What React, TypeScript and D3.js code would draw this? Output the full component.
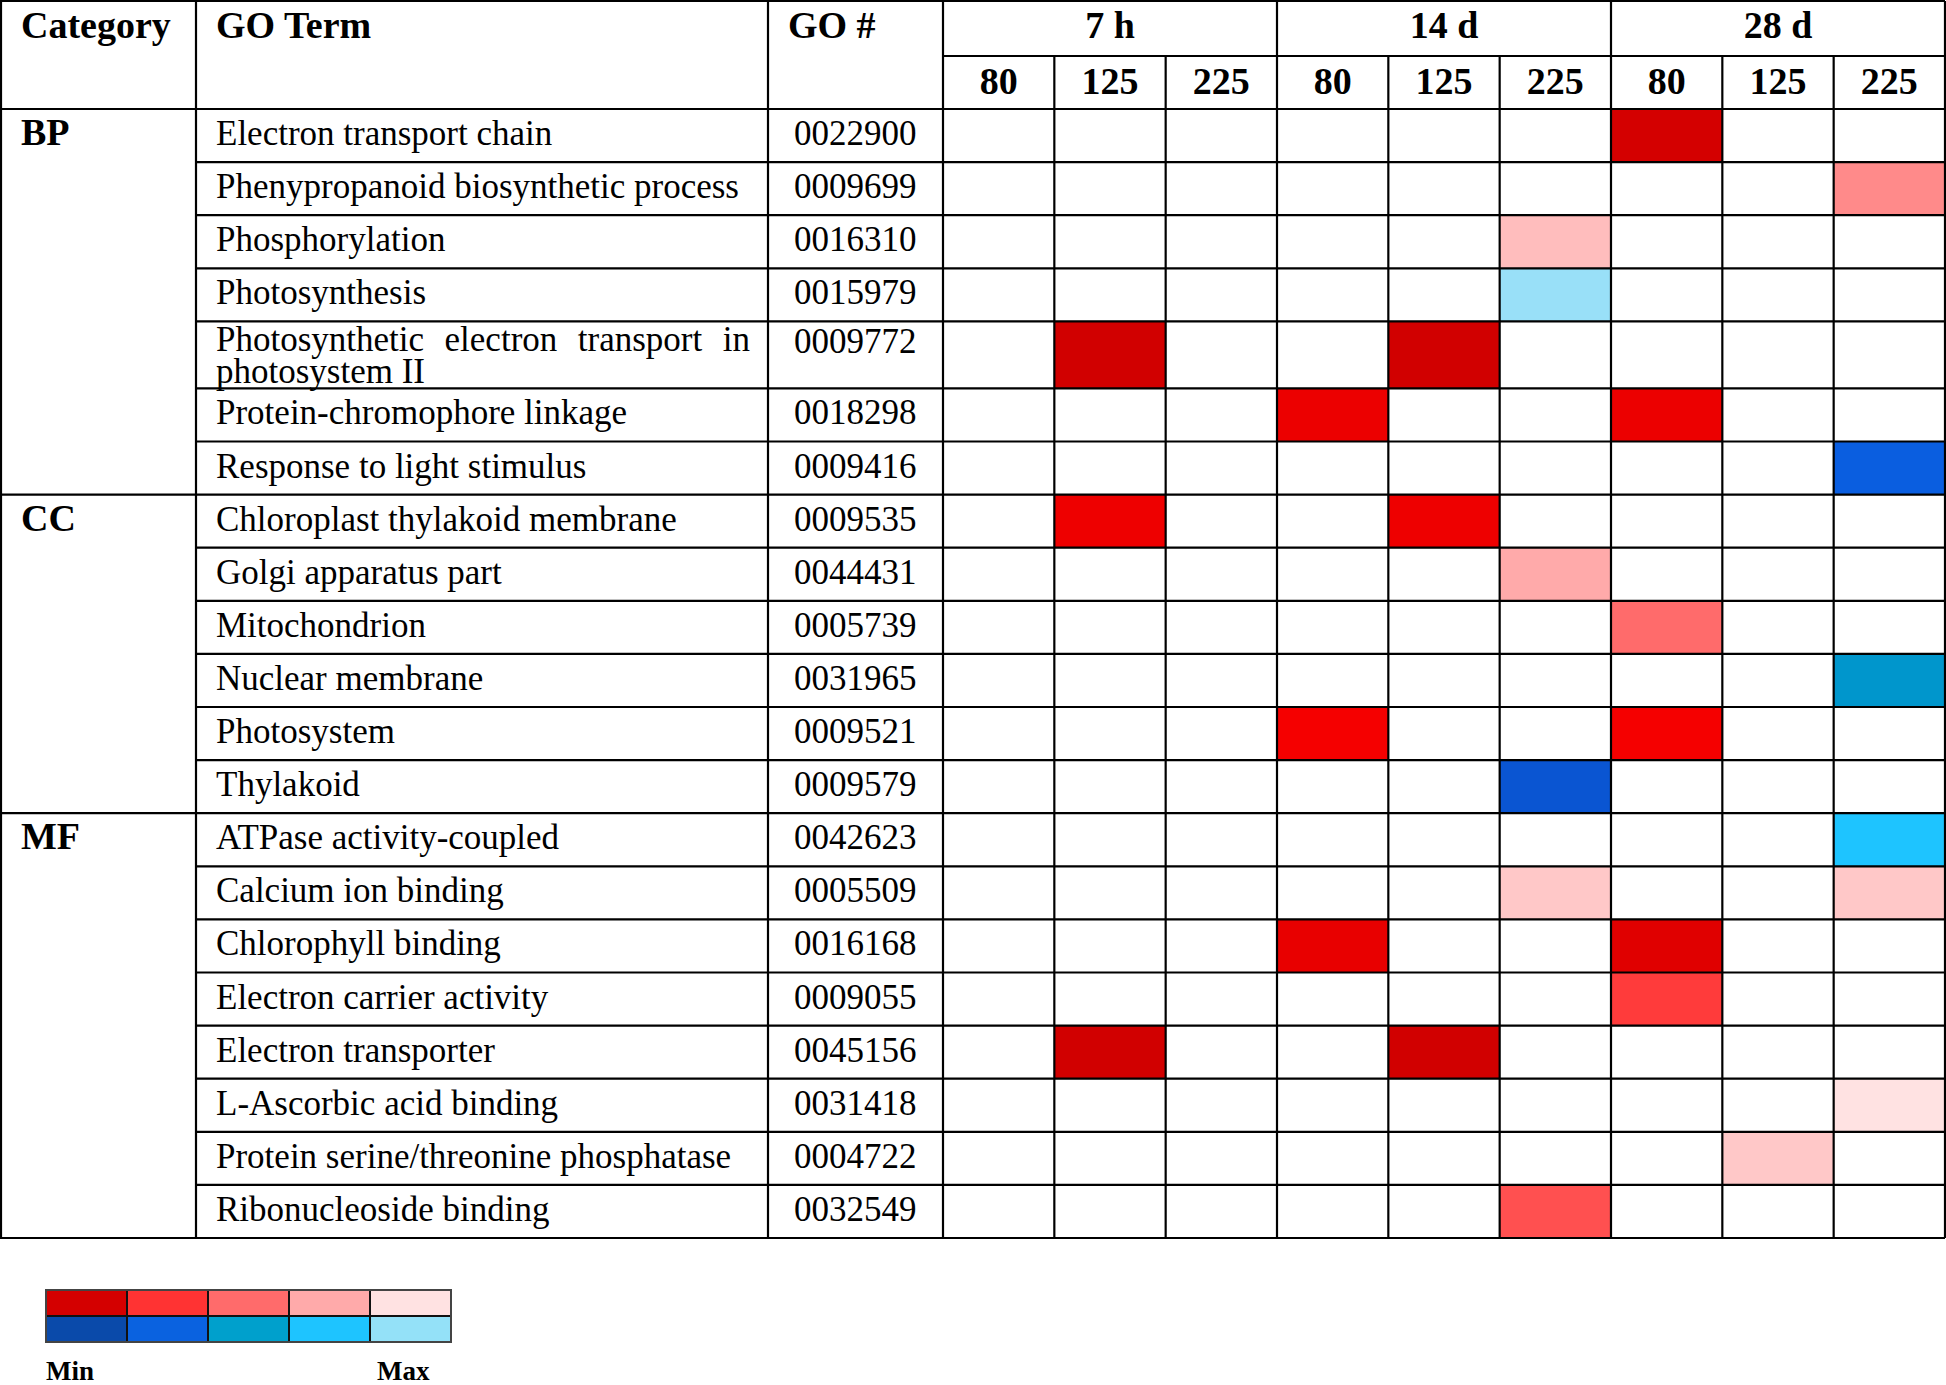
import React from "react";
import * as d3 from "d3";

const categories = ["BP", "CC", "MF"];
const groupSizes = [7, 6, 8];
const goTerms = [
  "Electron transport chain",
  "Phenypropanoid biosynthetic process",
  "Phosphorylation",
  "Photosynthesis",
  "Photosynthetic electron transport in|photosystem II",
  "Protein-chromophore linkage",
  "Response to light stimulus",
  "Chloroplast thylakoid membrane",
  "Golgi apparatus part",
  "Mitochondrion",
  "Nuclear membrane",
  "Photosystem",
  "Thylakoid",
  "ATPase activity-coupled",
  "Calcium ion binding",
  "Chlorophyll binding",
  "Electron carrier activity",
  "Electron transporter",
  "L-Ascorbic acid binding",
  "Protein serine/threonine phosphatase",
  "Ribonucleoside binding",
];
const goIds = [
  "0022900", "0009699", "0016310", "0015979", "0009772", "0018298", "0009416",
  "0009535", "0044431", "0005739", "0031965", "0009521", "0009579",
  "0042623", "0005509", "0016168", "0009055", "0045156", "0031418", "0004722", "0032549",
];
const timePoints = ["7 h", "14 d", "28 d"];
const doses = ["80", "125", "225"];

const _ = null;
// columns: 7h-80,7h-125,7h-225,14d-80,14d-125,14d-225,28d-80,28d-125,28d-225
const cellColors: (string | null)[][] = [
  [_, _, _, _, _, _, "#D40000", _, _],
  [_, _, _, _, _, _, _, _, "#FF8A8A"],
  [_, _, _, _, _, "#FFBDBD", _, _, _],
  [_, _, _, _, _, "#99E0F8", _, _, _],
  [_, "#D10000", _, _, "#D10000", _, _, _, _],
  [_, _, _, "#EC0000", _, _, "#EC0000", _, _],
  [_, _, _, _, _, _, _, _, "#0A5EE0"],
  [_, "#EE0000", _, _, "#EE0000", _, _, _, _],
  [_, _, _, _, _, "#FFAAAA", _, _, _],
  [_, _, _, _, _, _, "#FF6B6B", _, _],
  [_, _, _, _, _, _, _, _, "#0096CC"],
  [_, _, _, "#F50000", _, _, "#F50000", _, _],
  [_, _, _, _, _, "#0A55D2", _, _, _],
  [_, _, _, _, _, _, _, _, "#1EC4FF"],
  [_, _, _, _, _, "#FFC8C8", _, _, "#FFC8C8"],
  [_, _, _, "#E80000", _, _, "#E00000", _, _],
  [_, _, _, _, _, _, "#FF3B3B", _, _],
  [_, "#D10000", _, _, "#D10000", _, _, _, _],
  [_, _, _, _, _, _, _, _, "#FFE2E2"],
  [_, _, _, _, _, _, _, "#FFC8C8", _],
  [_, _, _, _, _, "#FF5050", _, _, _],
];
const legendRed = ["#D40000", "#FF3333", "#FF6B6B", "#FFAAAA", "#FFE2E2"];
const legendBlue = ["#0A4AAA", "#0A62E0", "#00A0CC", "#1EC4FF", "#94E1F8"];
const legendLabels = ["Min", "Max"];

const FONT = "'Liberation Serif', 'Times New Roman', serif";
const W = 1946;
const H = 1385;

function measure(text: string, font: string): number {
  const c = document.createElement("canvas").getContext("2d");
  if (!c) return text.length * 15;
  c.font = font;
  return c.measureText(text).width;
}

export default function App() {
  const xCat = 0, xTerm = 196, xId = 768, xData = 943, xRight = 1945;
  const yTop = 1, ySub = 56, yHead = 109;
  const rowH = 53.1, tallH = 67;
  const colKeys = timePoints.flatMap((t) => doses.map((d) => `${t}|${d}`));
  const x = d3.scaleBand<string>().domain(colKeys).range([xData, xRight]);
  const xGroup = d3.scaleBand<string>().domain(timePoints).range([xData, xRight]);

  const heights = goTerms.map((t) => (t.includes("|") ? tallH : rowH));
  const tops: number[] = [];
  let acc = yHead;
  heights.forEach((h) => { tops.push(acc); acc += h; });
  const yBottom = acc;

  const groupStarts: number[] = [];
  let gi = 0;
  groupSizes.forEach((s) => { groupStarts.push(gi); gi += s; });

  const bodyFont = `35px ${FONT}`;
  const lines: JSX.Element[] = [];
  const sw = 2.2;
  const L = (x1: number, y1: number, x2: number, y2: number, k: string) =>
    lines.push(<line key={k} x1={x1} y1={y1} x2={x2} y2={y2} stroke="#000" strokeWidth={sw} />);

  // horizontal lines
  L(xCat, yTop, xRight, yTop, "top");
  L(xData, ySub, xRight, ySub, "sub");
  L(xCat, yHead, xRight, yHead, "head");
  tops.forEach((t, i) => {
    if (i === 0) return;
    const isGroup = groupStarts.includes(i);
    L(isGroup ? xCat : xTerm, t, xRight, t, "h" + i);
  });
  L(xCat, yBottom, xRight, yBottom, "bottom");
  // vertical lines
  [xCat + 1, xTerm, xId, xData, xRight].forEach((vx, i) => L(vx, yTop, vx, yBottom, "v" + i));
  timePoints.forEach((t, i) => { if (i > 0) L(xGroup(t)!, yTop, xGroup(t)!, yBottom, "g" + i); });
  colKeys.forEach((k, i) => { if (i % 3 !== 0) L(x(k)!, ySub, x(k)!, yBottom, "c" + i); });

  const renderTerm = (term: string, i: number) => {
    const top = tops[i];
    if (!term.includes("|")) {
      return (
        <text key={"t" + i} x={216} y={top + 36} fontSize={35} fontFamily={FONT}>{term}</text>
      );
    }
    const [l1, l2] = term.split("|");
    const words = l1.split(" ");
    const left = 216, right = 750;
    const widths = words.map((w) => measure(w, bodyFont));
    const gap = (right - left - d3.sum(widths)) / (words.length - 1);
    let cx = left;
    const els = words.map((w, j) => {
      const el = <text key={"w" + j} x={cx} y={top + 30} fontSize={35} fontFamily={FONT}>{w}</text>;
      cx += widths[j] + gap;
      return el;
    });
    return (
      <g key={"t" + i}>
        {els}
        <text x={left} y={top + 62} fontSize={35} fontFamily={FONT}>{l2}</text>
      </g>
    );
  };

  const legX = 46, legW = 405, legY = 1290, legRowH = 26;
  const lx = d3.scaleBand<number>().domain(d3.range(5)).range([legX, legX + legW]);

  return (
    <svg width={W} height={H} style={{ position: "absolute", left: 0, top: 0, background: "#fff" }}>
      <rect x={0} y={0} width={W} height={H} fill="#fff" />
      {cellColors.map((row, i) =>
        row.map((c, j) =>
          c ? (
            <rect key={`cell${i}-${j}`} x={x(colKeys[j])!} y={tops[i]} width={x.bandwidth()} height={heights[i]} fill={c} />
          ) : null
        )
      )}
      {lines}
      <text x={21} y={38} fontSize={38} fontWeight="bold" fontFamily={FONT}>Category</text>
      <text x={216} y={38} fontSize={38} fontWeight="bold" fontFamily={FONT}>GO Term</text>
      <text x={788} y={38} fontSize={38} fontWeight="bold" fontFamily={FONT}>GO #</text>
      {timePoints.map((t) => (
        <text key={t} x={xGroup(t)! + xGroup.bandwidth() / 2} y={38} textAnchor="middle" fontSize={38} fontWeight="bold" fontFamily={FONT}>{t}</text>
      ))}
      {colKeys.map((k) => (
        <text key={k} x={x(k)! + x.bandwidth() / 2} y={94} textAnchor="middle" fontSize={38} fontWeight="bold" fontFamily={FONT}>{k.split("|")[1]}</text>
      ))}
      {categories.map((c, i) => (
        <text key={c} x={21} y={tops[groupStarts[i]] + 36} fontSize={38} fontWeight="bold" fontFamily={FONT}>{c}</text>
      ))}
      {goTerms.map(renderTerm)}
      {goIds.map((id, i) => (
        <text key={id} x={794} y={tops[i] + (heights[i] > rowH ? 32 : 36)} fontSize={35} fontFamily={FONT}>{id}</text>
      ))}
      {legendRed.map((c, i) => (
        <rect key={"lr" + i} x={lx(i)!} y={legY} width={lx.bandwidth()} height={legRowH} fill={c} stroke="#111" strokeWidth={2} />
      ))}
      {legendBlue.map((c, i) => (
        <rect key={"lb" + i} x={lx(i)!} y={legY + legRowH} width={lx.bandwidth()} height={legRowH} fill={c} stroke="#111" strokeWidth={2} />
      ))}
      <rect x={legX} y={legY} width={legW} height={legRowH * 2} fill="none" stroke="#444" strokeWidth={2} />
      <text x={46} y={1380} fontSize={27} fontWeight="bold" fontFamily={FONT}>{legendLabels[0]}</text>
      <text x={377} y={1380} fontSize={27} fontWeight="bold" fontFamily={FONT}>{legendLabels[1]}</text>
    </svg>
  );
}
